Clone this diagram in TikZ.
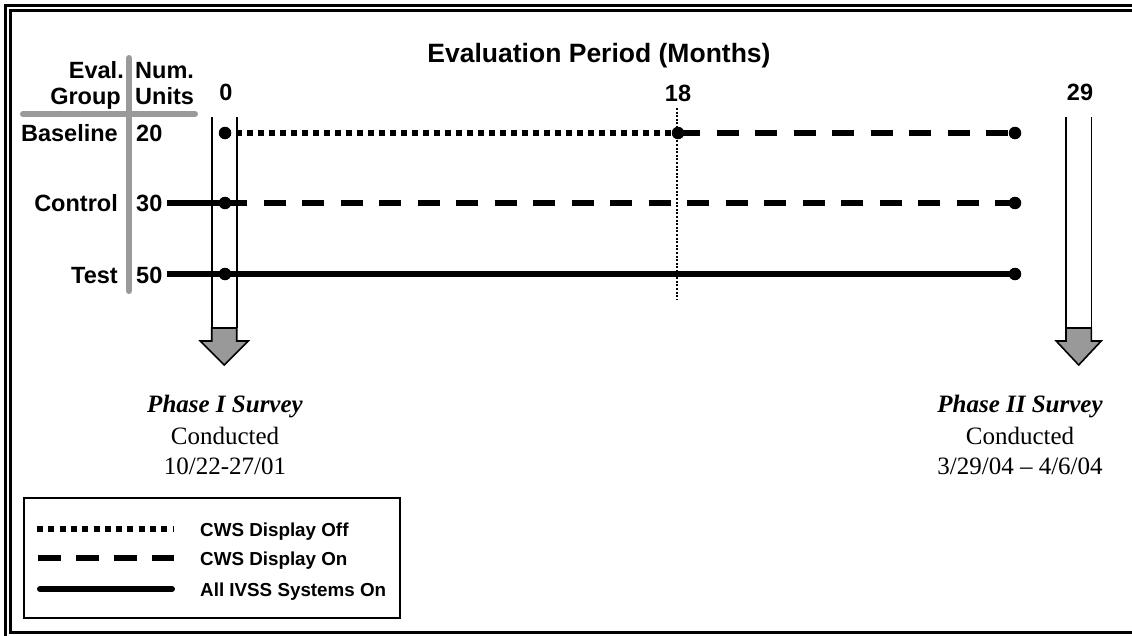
\documentclass[tikz,border=0pt]{standalone}
\usepackage{fontspec}
\setmainfont{Liberation Serif}
\setsansfont{Liberation Sans}
\definecolor{crossgray}{HTML}{9A9A9A}
\definecolor{headgray}{HTML}{999999}
\tikzset{
  lab/.style={font=\sffamily\bfseries\fontsize{23.5}{28}\selectfont, inner sep=0pt},
  ttl/.style={font=\sffamily\bfseries\fontsize{26.5}{30}\selectfont, inner sep=0pt, anchor=base},
  leg/.style={font=\sffamily\bfseries\fontsize{18.8}{23}\selectfont, inner sep=0pt, anchor=base west},
  phase/.style={font=\rmfamily\bfseries\itshape\fontsize{25}{30}\selectfont, inner sep=0pt, anchor=base},
  cond/.style={font=\rmfamily\fontsize{25}{30}\selectfont, inner sep=0pt, anchor=base},
  dotn/.style={circle, fill=black, inner sep=0pt, minimum size=12.5pt},
  offline/.style={line width=6pt, dash pattern=on 5.5pt off 5.5pt},
  online/.style={line width=6pt, dash pattern=on 22pt off 16.5pt},
  allon/.style={line width=6pt},
  crossline/.style={draw=crossgray, line width=6pt, line cap=round},
  shaftline/.style={line width=1.6pt},
  headshape/.style={fill=headgray, draw=black, line width=1.6pt, line join=miter},
  vdots/.style={line width=2.2pt, dash pattern=on 2pt off 1.6pt},
  frameline/.style={line width=3pt},
}
\begin{document}
\begin{tikzpicture}[x=1pt, y=-1pt]
\useasboundingbox (0,0) rectangle (1132,635);
\clip (0,0) rectangle (1132,635);
\fill[white] (0,0) rectangle (1132,635);

% frame
\draw[frameline] (5.5,660) -- (5.5,5.5) -- (1160,5.5);
\draw[frameline] (1160,632) -- (10.5,632) -- (10.5,10.5) -- (1160,10.5);

% title
\node[ttl] (title) at (599,62) {Evaluation Period (Months)};

% header
\node[lab, anchor=base east] (evalh) at (124,78) {Eval.};
\node[lab, anchor=base east] (grouph) at (121,104) {Group};
\node[lab, anchor=base west] (numh) at (135,78) {Num.};
\node[lab, anchor=base west] (unitsh) at (135,104) {Units};

% gray cross
\coordinate (cv1) at (129,58);
\coordinate (cv2) at (129,291);
\coordinate (ch1) at (23,114);
\coordinate (ch2) at (195,114);
\draw[crossline] (cv1) -- (cv2);
\draw[crossline] (ch1) -- (ch2);

% month labels
\node[lab, anchor=base] (m0) at (226,100) {0};
\node[lab, anchor=base] (m18) at (678,101) {18};
\node[lab, anchor=base] (m29) at (1080,100) {29};

% rows labels
\node[lab, anchor=base east] (gbase) at (118,141) {Baseline};
\node[lab, anchor=base west] (n20) at (136,141) {20};
\node[lab, anchor=base east] (gctrl) at (118,211) {Control};
\node[lab, anchor=base west] (n30) at (136,211) {30};
\node[lab, anchor=base east] (gtest) at (118,283) {Test};
\node[lab, anchor=base west] (n50) at (136,283) {50};

% arrows (shafts and heads)
\draw[shaftline] (211.7,117) -- (211.7,328);
\draw[shaftline] (236.7,117) -- (236.7,328);
\draw[headshape] (211.7,328) -- (236.7,328) -- (236.7,341) -- (248.3,341) -- (224.2,365) -- (200.2,341) -- (211.7,341) -- cycle;
\draw[shaftline] (1066,117) -- (1066,328);
\draw[shaftline] (1091.3,117) -- (1091.3,328);
\draw[headshape] (1066,328) -- (1091.3,328) -- (1091.3,341) -- (1101.2,341) -- (1078.7,365) -- (1056.2,341) -- (1066,341) -- cycle;

% vertical dotted at 18 months
\coordinate (v18a) at (677,108);
\coordinate (v18b) at (677,300);
\draw[vdots] (v18a) -- (v18b);

% dots
\node[dotn] (b0) at (225,133) {};
\node[dotn] (b18) at (678,133) {};
\node[dotn] (b29) at (1015,133) {};
\node[dotn] (c0) at (225,203) {};
\node[dotn] (c29) at (1015,203) {};
\node[dotn] (t0) at (225,274) {};
\node[dotn] (t29) at (1015,274) {};

% row lines
\draw[offline] (b0.center) -- (b18.center);
\draw[online] (b18.center) -- (b29.center);
\draw[online] (c0.center) -- (c29.center);
\draw[allon] (t0.center) -- (t29.center);
\draw[allon] ([xshift=4pt]n30.east |- c0) -- (c0.center);
\draw[allon] ([xshift=4pt]n50.east |- t0) -- (t0.center);

% survey texts
\node[phase] (p1) at (225,412) {Phase I Survey};
\node[cond] (p1c) at (225,444) {Conducted};
\node[cond] (p1d) at (225,474) {10/22-27/01};
\node[phase] (p2) at (1020,412) {Phase II Survey};
\node[cond] (p2c) at (1020,444) {Conducted};
\node[cond] (p2d) at (1020,474) {3/29/04 – 4/6/04};

% legend
\draw[line width=1.6pt] (24,498) rectangle (400,618);
\coordinate (l1a) at (37,529); \coordinate (l1b) at (174,529);
\coordinate (l2a) at (38,558); \coordinate (l2b) at (174,558);
\coordinate (l3a) at (40,589); \coordinate (l3b) at (172,589);
\draw[line width=6pt, dash pattern=on 6pt off 5.3pt] (l1a) -- (l1b);
\draw[line width=6pt, dash pattern=on 23pt off 15pt] (l2a) -- (l2b);
\draw[line width=6pt, line cap=round] (l3a) -- (l3b);
\node[leg] (lt1) at (200,536) {CWS Display Off};
\node[leg] (lt2) at (200,565) {CWS Display On};
\node[leg] (lt3) at (200,596) {All IVSS Systems On};
\end{tikzpicture}
\end{document}
